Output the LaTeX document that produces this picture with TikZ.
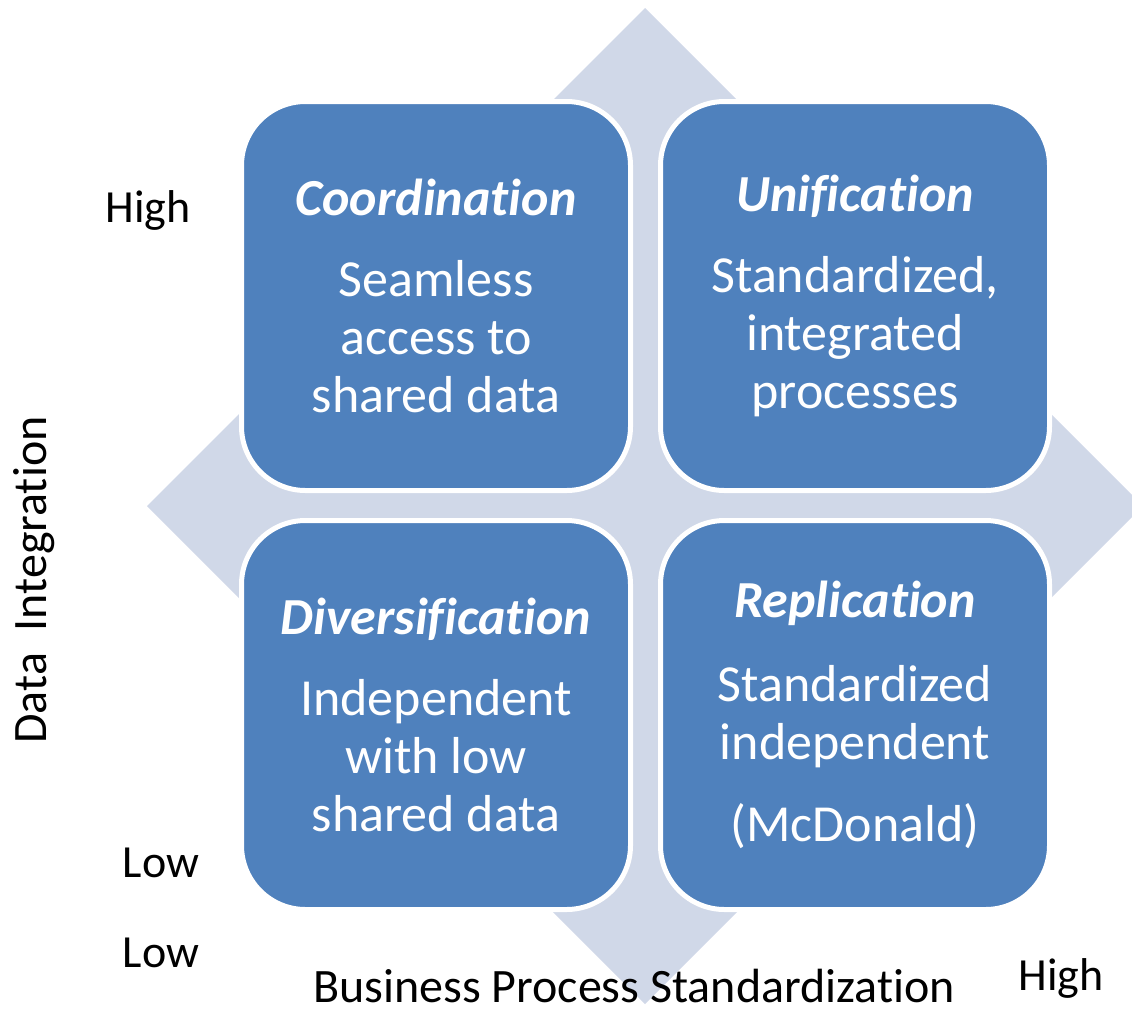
\documentclass[tikz,border=0pt]{standalone}
\usepackage{fontspec}
\setmainfont{Carlito}[Ligatures=NoCommon]
\usepackage{tikz}

\definecolor{quadblue}{HTML}{4F81BD}
\definecolor{diamondgrey}{HTML}{D0D8E8}

\tikzset{
	quad/.style={draw=white, line width=5pt, fill=quadblue, rounded corners=64pt,
		minimum width=389pt, minimum height=389pt, inner sep=0pt,
		text=white, align=center, font=\fontsize{52}{58}\selectfont},
	axislabel/.style={anchor=base, inner sep=0pt, font=\fontsize{46}{54}\selectfont},
	axistitle/.style={axislabel, font=\fontsize{48}{56}\selectfont}
}

\begin{document}
\begin{tikzpicture}[x=1pt, y=-1pt]
		\useasboundingbox (0, 0) rectangle (1132, 1010);

		\fill[diamondgrey] (645, 8) -- (1143, 506) -- (645, 1004) -- (147, 506) -- cycle;

		\node[quad] (coordination) at (436, 296)
			{\textbf{\textit{Coordination}}\\[23pt]Seamless\\access to\\shared data};
		\node[quad] (unification) at (855, 296)
			{\textbf{\textit{Unification}}\\[23pt]Standardized,\\integrated\\processes};
		\node[quad] (diversification) at (436, 715)
			{\textbf{\textit{Diversification}}\\[23pt]Independent\\with low\\shared data};
		\node[quad] (replication) at (855, 715)
			{\textbf{\textit{Replication}}\\[26pt]Standardized\\independent\\[24pt](McDonald)};

		\node[axislabel] (highy) at (148, 222) {High};
		\node[axislabel] (lowy) at (161, 877) {Low};
		\node[axislabel] (lowx) at (161, 967) {Low};
		\node[axislabel] (highx) at (1061, 990) {High};
		\node[axistitle] (xaxis) at (634, 1002) {Business Process Standardization};
		\node[axistitle, rotate=90] (yaxis) at (46, 580) {Data\ \ Integration};
	\end{tikzpicture}
\end{document}
